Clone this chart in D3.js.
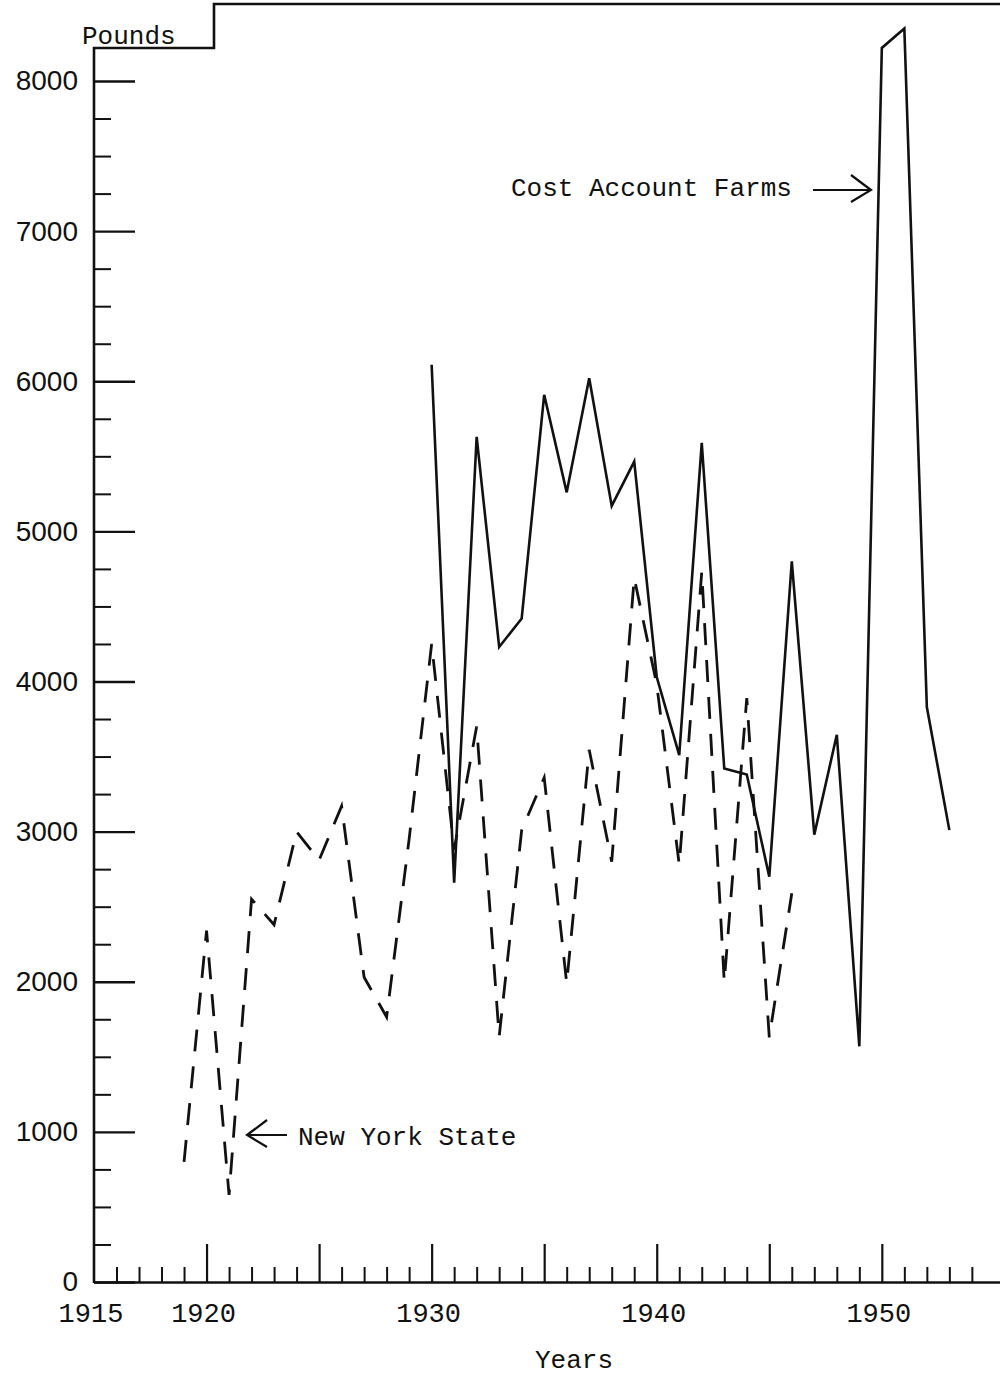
<!DOCTYPE html>
<html>
<head>
<meta charset="utf-8">
<script src="https://cdn.jsdelivr.net/npm/d3@7"></script>
<style>
  body { margin: 0; background: #fff; }
  svg { display: block; }
  text { fill: #111; }
</style>
</head>
<body>
<div class="module"></div>
<script>
// New York State (dashed), pounds per year
const nyYears = d3.range(1919, 1947);
const nyValues = [800, 2340, 580, 2550, 2380, 3000, 2810, 3170, 2030, 1765,
                  2950, 4250, 2880, 3700, 1635, 3010, 3360, 1990, 3545, 2800,
                  4690, 3980, 2780, 4730, 2000, 3890, 1630, 2590];

// Cost Account Farms (solid)
const farmYears = d3.range(1930, 1954);
const farmValues = [6110, 2660, 5630, 4230, 4420, 5910, 5260, 6020, 5170, 5465,
                    4030, 3510, 5590, 3420, 3380, 2700, 4800, 2980, 3645, 1570,
                    8220, 8350, 3830, 3010];

const yMajor = d3.range(0, 8001, 1000);
const yMinor = d3.range(250, 8000, 250).filter(v => v % 1000 !== 0);
const xMajor = d3.range(1920, 1955, 5);
const xMinor = d3.range(1916, 1955).filter(v => v % 5 !== 0);
const xLabels = [1915, 1920, 1930, 1940, 1950];

const width = 1000, height = 1377;
const mono = "'Liberation Mono', 'DejaVu Sans Mono', monospace";

const svg = d3.select(".module")
  .append("svg")
    .attr("width", width)
    .attr("height", height);

const x = d3.scaleLinear()
    .domain([1915, 1955.25])
    .range([94, 1000]);

const y = d3.scaleLinear()
    .domain([0, 8000])
    .range([1282, 81]);

// frame: y axis line going up into the stepped top border
svg.append("path")
    .attr("d", `M${x(1915)},${y(0) + 1}V48H214V4H${width}`)
    .attr("fill", "none")
    .attr("stroke", "#111")
    .attr("stroke-width", 2.6);

svg.append("text")
    .attr("x", 82)
    .attr("y", 44)
    .style("font-family", mono)
    .style("font-size", "26px")
    .text("Pounds");

// y axis ticks (pointing inward), labels on the left
const yMajorAxis = svg.append("g")
    .attr("transform", `translate(${x(1915)},0)`)
    .call(d3.axisLeft(y).tickValues(yMajor).tickSize(-41).tickSizeOuter(0).tickPadding(16)
      .tickFormat(d3.format("d")));
yMajorAxis.select(".domain").remove();
yMajorAxis.selectAll("line").attr("stroke", "#111").attr("stroke-width", 2.4);
yMajorAxis.selectAll("text")
    .style("font-family", "'Liberation Sans', Arial, sans-serif")
    .style("font-size", "28px")
    .attr("fill", "#111");

const yMinorAxis = svg.append("g")
    .attr("transform", `translate(${x(1915)},0)`)
    .call(d3.axisLeft(y).tickValues(yMinor).tickSize(-17).tickFormat(""));
yMinorAxis.select(".domain").remove();
yMinorAxis.selectAll("line").attr("stroke", "#111").attr("stroke-width", 2);

// x axis
const xMinorAxis = svg.append("g")
    .attr("transform", `translate(0,${y(0)})`)
    .call(d3.axisBottom(x).tickValues(xMinor).tickSize(-15).tickSizeOuter(0).tickFormat(""));
xMinorAxis.select(".domain").attr("stroke", "#111").attr("stroke-width", 2.4);
xMinorAxis.selectAll("line").attr("stroke", "#111").attr("stroke-width", 2);

const xMajorAxis = svg.append("g")
    .attr("transform", `translate(0,${y(0)})`)
    .call(d3.axisBottom(x).tickValues(xMajor).tickSize(-38).tickSizeOuter(0).tickFormat(""));
xMajorAxis.select(".domain").remove();
xMajorAxis.selectAll("line").attr("stroke", "#111").attr("stroke-width", 2.2);

svg.append("g")
  .selectAll("text")
  .data(xLabels)
  .enter()
  .append("text")
    .attr("x", d => x(d) - 3)
    .attr("y", y(0) + 40)
    .attr("text-anchor", "middle")
    .style("font-family", mono)
    .style("font-size", "27px")
    .text(d => d);

svg.append("text")
    .attr("x", 574)
    .attr("y", 1368)
    .attr("text-anchor", "middle")
    .style("font-family", mono)
    .style("font-size", "26px")
    .text("Years");

// series
const line = d3.line()
    .x(d => x(d[0]))
    .y(d => y(d[1]));

svg.append("path")
    .datum(d3.zip(nyYears, nyValues))
    .attr("d", line)
    .attr("fill", "none")
    .attr("stroke", "#111")
    .attr("stroke-width", 2.8)
    .attr("stroke-dasharray", "22,15")
    .attr("stroke-linejoin", "miter");

svg.append("path")
    .datum(d3.zip(farmYears, farmValues))
    .attr("d", line)
    .attr("fill", "none")
    .attr("stroke", "#111")
    .attr("stroke-width", 2.6)
    .attr("stroke-linejoin", "miter");

// annotations
function arrow(x1, x2, yy) {
  const dir = x2 > x1 ? 1 : -1;
  const g = svg.append("g").attr("stroke", "#111").attr("fill", "none").attr("stroke-width", 2.2);
  g.append("line").attr("x1", x1).attr("x2", x2 - dir * 2).attr("y1", yy).attr("y2", yy);
  g.append("polyline")
    .attr("points", `${x2 - dir * 20},${yy - 15} ${x2},${yy} ${x2 - dir * 20},${yy + 12}`);
}

svg.append("text")
    .attr("x", 511)
    .attr("y", 196)
    .style("font-family", mono)
    .style("font-size", "26px")
    .text("Cost Account Farms");
arrow(813, 871, 190);

svg.append("text")
    .attr("x", 298)
    .attr("y", 1145)
    .style("font-family", mono)
    .style("font-size", "26px")
    .text("New York State");
arrow(287, 247, 1135);
</script>
</body>
</html>
